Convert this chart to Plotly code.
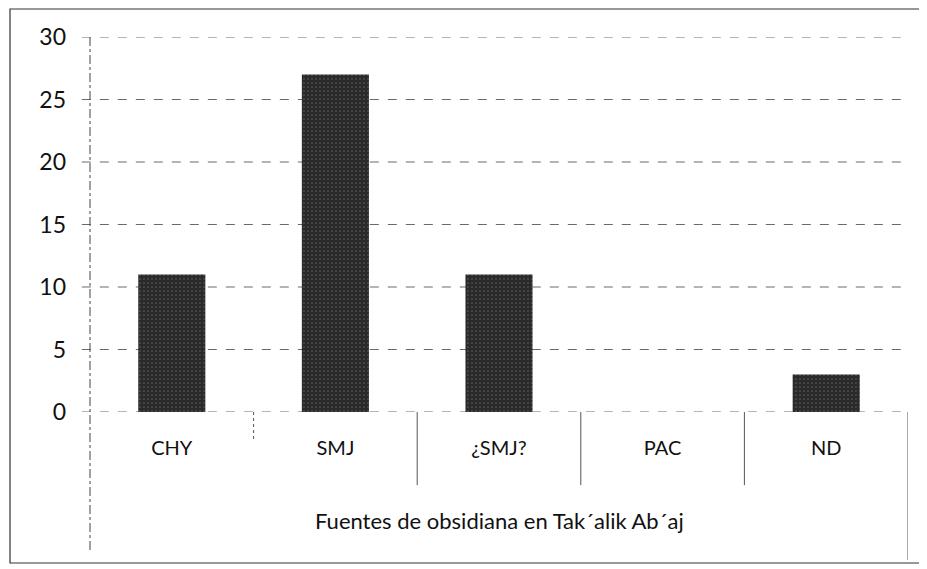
import plotly.graph_objects as go

categories = ["CHY", "SMJ", "¿SMJ?", "PAC", "ND"]
values = [11, 27, 11, 0, 3]
y_ticks = [0, 5, 10, 15, 20, 25, 30]
x_title = "Fuentes de obsidiana en Tak´alik Ab´aj"

FONT = "Lato, 'Open Sans', sans-serif"
fig = go.Figure()
fig.add_trace(go.Bar(
    x=list(range(len(categories))), y=values, width=0.41,
    marker=dict(color="#2a2a2a", line=dict(width=0),
                pattern=dict(shape=".", fgcolor="#8a8a8a", bgcolor="#2a2a2a", size=4, solidity=0.15)),
    showlegend=False,
))

grid = dict(color="#6a6a6a", width=1, dash="dash")
shapes = []
# horizontal gridlines incl. tick stubs
for t in y_ticks:
    shapes.append(dict(type="line", xref="paper", yref="y", x0=-0.01, x1=1, y0=t, y1=t, line=grid, layer="below"))
# y-axis line extended down
shapes.append(dict(type="line", xref="paper", yref="paper", x0=0, x1=0, y0=1, y1=-0.37,
                   line=dict(color="#444", width=1, dash="dashdot")))
# category dividers
div_len = {0.5: -0.075, 1.5: -0.195, 2.5: -0.195, 3.5: -0.195, 4.5: -0.395}
for xv, yb in div_len.items():
    shapes.append(dict(type="line", xref="x", yref="paper", x0=xv, x1=xv, y0=0, y1=yb,
                       line=dict(color="#555", width=1, dash="dot" if xv == 0.5 else "solid")))
# outer chart border
shapes.append(dict(type="rect", xref="paper", yref="paper", x0=-0.0978, x1=1.0147, y0=-0.4027, y1=1.0747,
                   line=dict(color="#333", width=1.2)))

fig.update_layout(
    width=919, height=561,
    margin=dict(l=82, r=19, t=29, b=157),
    paper_bgcolor="white", plot_bgcolor="white",
    font=dict(family=FONT, color="#111"),
    shapes=shapes,
    xaxis=dict(range=[-0.5, 4.5], tickmode="array", tickvals=list(range(len(categories))),
               ticktext=categories, showgrid=False, zeroline=False, showline=False,
               ticks="", tickfont=dict(size=20), ticklabelstandoff=22),
    yaxis=dict(range=[0, 30], tickmode="array", tickvals=y_ticks, showgrid=False, zeroline=False,
               showline=False, ticks="", tickfont=dict(size=23), ticklabelstandoff=23),
    annotations=[dict(text=x_title, xref="paper", yref="paper", x=0.5, y=-0.29, showarrow=False,
                      xanchor="center", yanchor="middle", font=dict(size=22, family=FONT))],
)

fig.write_html("out.html")
